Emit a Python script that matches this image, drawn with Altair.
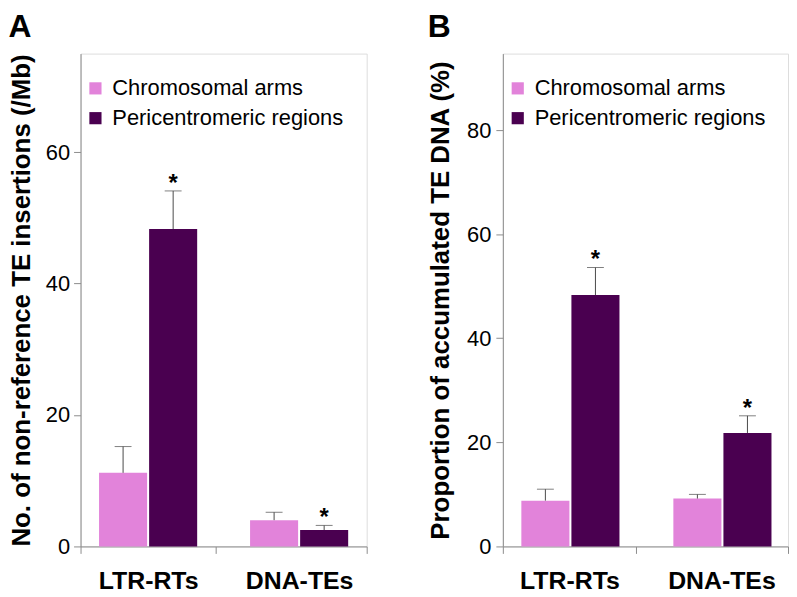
import altair as alt
import pandas as pd

categories = ["LTR-RTs", "DNA-TEs"]
regions = ["Chromosomal arms", "Pericentromeric regions"]

# Panel A: No. of non-reference TE insertions (/Mb)
a_arms_mean = [11.2, 4.0]
a_arms_err = [4.0, 1.2]
a_peri_mean = [48.3, 2.5]
a_peri_err = [5.8, 0.7]

# Panel B: Proportion of accumulated TE DNA (%)
b_arms_mean = [8.8, 9.2]
b_arms_err = [2.2, 0.8]
b_peri_mean = [48.3, 21.8]
b_peri_err = [5.3, 3.3]

arms_stars = ["", ""]
peri_stars = ["*", "*"]

a_yticks = [0, 20, 40, 60]
b_yticks = [0, 20, 40, 60, 80]

PINK = "#E283DA"
PURPLE = "#4A0050"
GRAY = "#8C8C8C"
ERR = "#4A4A4A"
FONT = "Liberation Sans"


def make_df(arms_mean, arms_err, peri_mean, peri_err):
    rows = []
    for i, c in enumerate(categories):
        rows.append({"type": c, "region": regions[0], "mean": arms_mean[i],
                     "err": arms_err[i], "star": arms_stars[i]})
        rows.append({"type": c, "region": regions[1], "mean": peri_mean[i],
                     "err": peri_err[i], "star": peri_stars[i]})
    df = pd.DataFrame(rows)
    df["upper"] = df["mean"] + df["err"]
    return df


def panel(df, ymax, yticks, ytitle, letter, width, pad_inner,
          label_pad, title_pad):
    yaxis = alt.Axis(values=yticks, title=ytitle, grid=False,
                     labelFontSize=22, labelFont=FONT,
                     labelColor="black", tickSize=7,
                     labelPadding=label_pad, tickColor=GRAY,
                     domainColor=GRAY, titleFontSize=26,
                     titleFont=FONT, titleFontWeight="bold",
                     titleColor="black", titlePadding=title_pad)
    yscale = alt.Scale(domain=[0, ymax], nice=False)
    base = alt.Chart(df).encode(
        x=alt.X("type:N", sort=categories,
                scale=alt.Scale(paddingInner=pad_inner, paddingOuter=0),
                axis=alt.Axis(title=None, labelAngle=0, labelFontSize=25,
                              labelFontWeight="bold", labelColor="black",
                              labelFont=FONT, tickBand="extent", tickSize=7,
                              labelPadding=15, domainColor=GRAY,
                              tickColor=GRAY)),
        xOffset=alt.XOffset("region:N", sort=regions,
                            scale=alt.Scale(paddingInner=0.04,
                                            paddingOuter=0.37)),
    )
    bars = base.mark_bar().encode(
        y=alt.Y("mean:Q", scale=yscale, axis=yaxis),
        color=alt.Color("region:N",
                        scale=alt.Scale(domain=regions, range=[PINK, PURPLE]),
                        legend=alt.Legend(title=None, orient="none",
                                          legendX=4, legendY=24,
                                          symbolType="square",
                                          symbolSize=150,
                                          symbolStrokeWidth=0,
                                          labelFontSize=22, labelFont=FONT,
                                          labelColor="black",
                                          labelLimit=0,
                                          labelOffset=6, rowPadding=8,
                                          padding=0)),
    )
    rules = base.mark_rule(color=ERR, strokeWidth=1).encode(
        y=alt.Y("mean:Q", scale=yscale, axis=yaxis), y2="upper:Q")
    caps = base.mark_tick(color=ERR, size=17, thickness=1,
                          orient="horizontal").encode(
        y=alt.Y("upper:Q", scale=yscale, axis=yaxis))
    stars = base.mark_text(font=FONT, fontSize=24, fontWeight="bold",
                           color="black", baseline="alphabetic",
                           dy=0).encode(
        y=alt.Y("upper:Q", scale=yscale, axis=yaxis), text="star:N")
    return alt.layer(bars, rules, caps, stars).properties(
        width=width, height=496,
        title=alt.TitleParams(letter, anchor="start", frame="bounds",
                              fontSize=32, fontWeight="bold", font=FONT,
                              color="black", offset=10),
    )


dfa = make_df(a_arms_mean, a_arms_err, a_peri_mean, a_peri_err)
dfb = make_df(b_arms_mean, b_arms_err, b_peri_mean, b_peri_err)

pa = panel(dfa, 75, a_yticks, "No. of non-reference TE insertions (/Mb)",
           "A", 288, 0.105, 4, 11)
pb = panel(dfb, 94.7, b_yticks, "Proportion of accumulated TE DNA (%)",
           "B", 287, 0.124, 5, 13)

chart = alt.hconcat(pa, pb, spacing=60).resolve_scale(
    y="independent", color="independent"
).resolve_legend(color="independent").properties(
    padding=0
).configure_view(
    stroke=GRAY, strokeWidth=1
).configure(
    font=FONT
)

chart.save("out.html", embed_options={"renderer": "svg", "actions": False})
